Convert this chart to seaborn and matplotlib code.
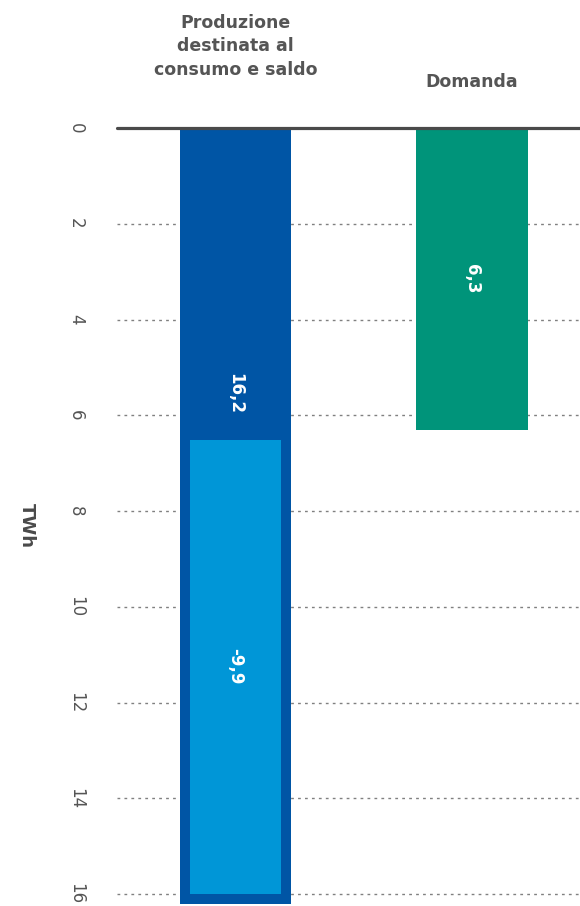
import matplotlib
matplotlib.use("Agg")
import matplotlib.pyplot as plt
import seaborn as sns

# Data
categories = ["Produzione\ndestinata al\nconsumo e saldo", "Domanda"]
totals = [16.2, 6.3]          # production for consumption, demand
saldo = -9.9                  # balance, drawn on top of the production bar
y_ticks = [0, 2, 4, 6, 8, 10, 12, 14, 16]
unit_label = "TWh"

# Styling
dark_blue = "#0055A5"
light_blue = "#0096D7"
green = "#00947A"
text_gray = "#555555"

sns.set_theme(style="white")
plt.rcParams["font.family"] = ["DejaVu Sans"]

fig = plt.figure(figsize=(5.8, 9.06), dpi=100)
ax = fig.add_axes([117 / 580, 0, 463 / 580, 778 / 906])

bar_w = 0.47
sns.barplot(x=[c for c in categories], y=totals, hue=categories,
            palette=[dark_blue, green], legend=False, width=bar_w,
            saturation=1, linewidth=0, ax=ax, zorder=2)

# Balance segment: from the top of production back toward zero,
# with a dark inner frame (stroke clipped to the patch itself)
seg = ax.bar(0, saldo, bottom=totals[0], width=bar_w, color=light_blue,
             edgecolor=dark_blue, linewidth=14.4, zorder=3)[0]
seg.set_clip_path(seg)

ax.set_xlim(-0.501, 1.457)
ax.set_ylim(16.25, 0)

# Dotted grid and solid zero line
for t in y_ticks[1:]:
    ax.axhline(t, color="#808080", linewidth=1.0, linestyle=(0, (2, 3)),
               zorder=1)
ax.axhline(0, color="#4a4a4a", linewidth=2.3, zorder=4, clip_on=False)

for s in ax.spines.values():
    s.set_visible(False)

ax.set_xticks([])
ax.set_xlabel("")
ax.set_ylabel("")
ax.set_yticks(y_ticks)
ax.set_yticklabels([str(t) for t in y_ticks], rotation=-90, va="center",
                   fontsize=12, color=text_gray)
ax.tick_params(axis="y", length=0, pad=23)

# Category headers above the bars
header_y = [1.068, 1.0527]
for i, (cat, hy) in enumerate(zip(categories, header_y)):
    ax.text(i, hy, cat, transform=ax.get_xaxis_transform(), ha="center",
            va="baseline", fontsize=12.5, fontweight="bold", color=text_gray,
            linespacing=1.4)

def fmt(v):
    return f"{v:.1f}".replace(".", ",")

# Value labels, rotated like the axis
top_of_saldo = totals[0] + saldo
ax.text(0, top_of_saldo - 0.75, fmt(totals[0]), rotation=-90, ha="center",
        va="center", color="white", fontsize=12, fontweight="bold", zorder=5)
ax.text(0, totals[0] + saldo / 2, fmt(saldo), rotation=-90, ha="center",
        va="center", color="white", fontsize=12, fontweight="bold", zorder=5)
ax.text(1, totals[1] / 2, fmt(totals[1]), rotation=-90, ha="center",
        va="center", color="white", fontsize=12, fontweight="bold", zorder=5)

fig.text(27 / 580, 1 - 526 / 906, unit_label, rotation=-90, ha="center",
         va="center", fontsize=13, fontweight="bold", color="#4a4a4a")

fig.savefig("out.png", dpi=100, facecolor="white")
